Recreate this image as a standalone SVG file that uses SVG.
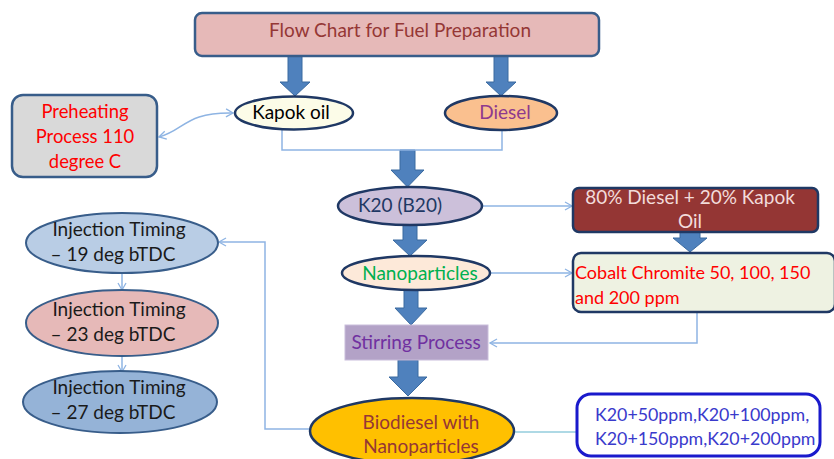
<svg xmlns="http://www.w3.org/2000/svg" width="834" height="459" viewBox="0 0 834 459">
<defs>
<marker id="oa" markerWidth="10" markerHeight="10" refX="8" refY="5" orient="auto" markerUnits="userSpaceOnUse">
<path d="M1,1 L8,5 L1,9" fill="none" stroke="#8eb4e3" stroke-width="1.3"/>
</marker>
<marker id="oas" markerWidth="10" markerHeight="10" refX="8" refY="5" orient="auto-start-reverse" markerUnits="userSpaceOnUse">
<path d="M1,1 L8,5 L1,9" fill="none" stroke="#8eb4e3" stroke-width="1.3"/>
</marker>
</defs>
<style>
text{font-family:Lato,"Liberation Sans",sans-serif;font-size:19px}
.c{text-anchor:middle}
.ln{fill:none;stroke:#8eb4e3;stroke-width:1.5}
.ba{fill:#4f81bd;stroke:#3a6aa0;stroke-width:1}
.ed{stroke:#1f3864;stroke-width:2.5}
.eb{stroke:#385d8a;stroke-width:2}
</style>
<rect width="834" height="459" fill="#ffffff"/>

<g id="connectors">
<path class="ba" d="M288,56 L302,56 L302,82 L310,82 L295,96 L280,82 L288,82 Z"/>
<path class="ba" d="M494,56 L508,56 L508,82 L516,82 L501,96 L486,82 L494,82 Z"/>
<path class="ba" d="M400,150 L415,150 L415,170 L424,170 L407.5,187 L391,170 L400,170 Z"/>
<path class="ba" d="M403,225 L417,225 L417,240 L427,240 L410,256 L393,240 L403,240 Z"/>
<path class="ba" d="M404,290 L418,290 L418,308 L427,308 L411,325 L395,308 L404,308 Z"/>
<path class="ba" d="M398,360 L418,360 L418,377 L427,377 L408,396 L389,377 L398,377 Z"/>
<path class="ba" d="M680,232 L700,232 L700,238 L707,238 L690,252 L673,238 L680,238 Z"/>
<path class="ln" d="M282,130 L282,150 L502,150 L502,130"/>
<path class="ln" d="M159,137 C185,130 185,112 233,113" marker-start="url(#oas)" marker-end="url(#oa)"/>
<path class="ln" d="M482,206 L572,206" marker-end="url(#oa)"/>
<path class="ln" d="M490,273 L572,273" marker-end="url(#oa)"/>
<path class="ln" d="M697,312 L697,343 L490,343" marker-end="url(#oa)"/>
<path d="M513,432 L576,432" fill="none" stroke="#93cddd" stroke-width="1.5"/>
<path class="ln" d="M310,429 L265,429 L265,242 L219,242" marker-end="url(#oa)"/>
<path class="ln" d="M122,273 L122,290" marker-end="url(#oa)"/>
<path class="ln" d="M122,357 L122,372" marker-end="url(#oa)"/>
</g>

<g id="title">
<rect x="195" y="13" width="404" height="43" rx="7" fill="#e6b9b8" stroke="#385d8a" stroke-width="2.5"/>
<text x="400" y="37" class="c" fill="#953735">Flow Chart  for Fuel Preparation</text>
</g>

<g id="preheating">
<rect x="12" y="95" width="145" height="82" rx="11" fill="#d9d9d9" stroke="#385d8a" stroke-width="2.5"/>
<text x="85" y="118" class="c" fill="#ff0000" style="font-size:18.4px">Preheating</text>
<text x="85" y="143" class="c" fill="#ff0000" style="font-size:18.4px">Process 110</text>
<text x="85" y="168" class="c" fill="#ff0000" style="font-size:18.4px">degree C</text>
</g>

<g id="kapok">
<ellipse cx="294" cy="113" rx="59" ry="16.5" fill="#fcfce8" class="ed"/>
<text x="291" y="119" class="c" fill="#000000">Kapok oil</text>
</g>

<g id="diesel">
<ellipse cx="501" cy="113" rx="56" ry="17" fill="#fac08f" class="ed"/>
<text x="505" y="119" class="c" fill="#8e3a8e">Diesel</text>
</g>

<g id="k20">
<ellipse cx="410" cy="206" rx="72" ry="19" fill="#ccc0da" class="ed"/>
<text x="400" y="212" class="c" fill="#1f3864">K20 (B20)</text>
</g>

<g id="mix">
<rect x="573" y="188" width="245" height="44" rx="6" fill="#943634" stroke="#1f3864" stroke-width="2.5"/>
<text x="690" y="204" class="c" fill="#f2dcdb">80% Diesel + 20% Kapok</text>
<text x="690" y="228" class="c" fill="#f2dcdb">Oil</text>
</g>

<g id="nano">
<ellipse cx="416" cy="273" rx="74" ry="17" fill="#fde9d9" class="ed"/>
<text x="420" y="280" class="c" fill="#00b050">Nanoparticles</text>
</g>

<g id="cobalt">
<rect x="573" y="253" width="262" height="59" rx="8" fill="#eef2e2" stroke="#1f3864" stroke-width="2.5"/>
<text x="575" y="279" fill="#ff0000" style="font-size:18px">Cobalt Chromite 50, 100, 150</text>
<text x="575" y="304" fill="#ff0000" style="font-size:18px">and 200 ppm</text>
</g>

<g id="stirring">
<rect x="345" y="325" width="143" height="35" fill="#b3a2c7" stroke="#c9bedb" stroke-width="1"/>
<text x="416" y="349" class="c" fill="#7030a0">Stirring Process</text>
</g>

<g id="biodiesel">
<ellipse cx="412" cy="431" rx="102" ry="33" fill="#ffc000" class="ed"/>
<text x="421" y="429" class="c" fill="#953735">Biodiesel with</text>
<text x="421" y="453" class="c" fill="#953735">Nanoparticles</text>
</g>

<g id="results">
<rect x="577" y="394" width="243" height="62" rx="14" fill="#ffffff" stroke="#1a1acc" stroke-width="3"/>
<text x="595" y="421" fill="#3a3acc" style="font-size:17.8px">K20+50ppm,K20+100ppm,</text>
<text x="595" y="445" fill="#3a3acc" style="font-size:17.8px">K20+150ppm,K20+200ppm</text>
</g>

<g id="inj19">
<ellipse cx="122" cy="243" rx="96" ry="30" fill="#b9cde5" class="eb"/>
<text x="119" y="236" class="c" fill="#1a1a1a">Injection Timing</text>
<text x="113" y="261" class="c" fill="#1a1a1a">– 19 deg bTDC</text>
</g>

<g id="inj23">
<ellipse cx="122" cy="323" rx="96" ry="33" fill="#e6b9b8" class="eb"/>
<text x="119" y="316" class="c" fill="#1a1a1a">Injection Timing</text>
<text x="113" y="341" class="c" fill="#1a1a1a">– 23 deg bTDC</text>
</g>

<g id="inj27">
<ellipse cx="120" cy="402" rx="97" ry="31" fill="#95b3d7" class="eb"/>
<text x="119" y="394" class="c" fill="#1a1a1a">Injection Timing</text>
<text x="113" y="419" class="c" fill="#1a1a1a">– 27 deg bTDC</text>
</g>
</svg>
